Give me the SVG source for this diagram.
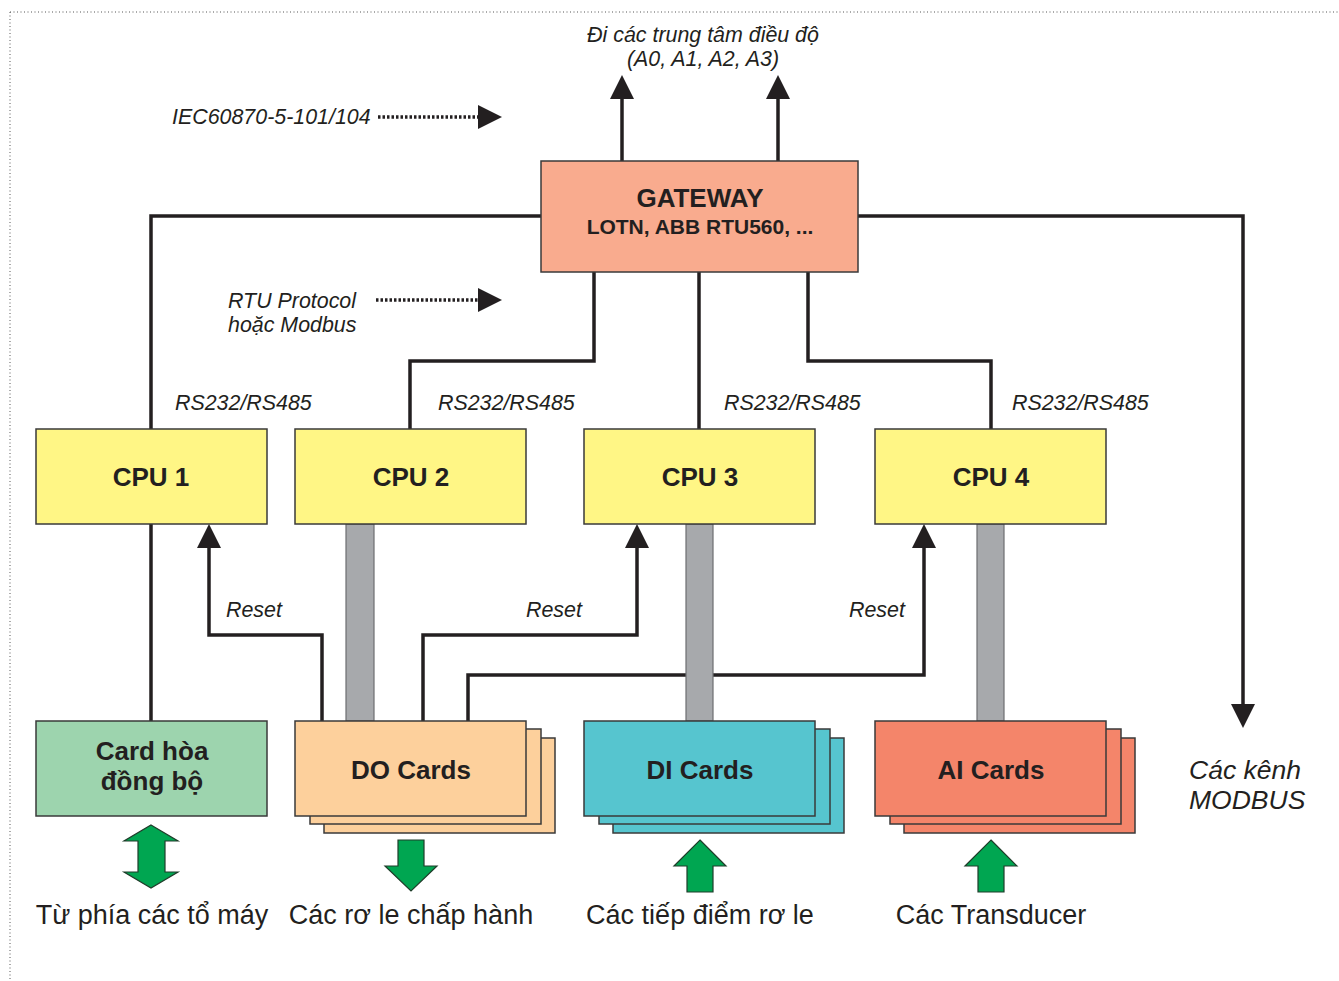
<svg xmlns="http://www.w3.org/2000/svg" width="1339" height="981" viewBox="0 0 1339 981">
<style>
text{font-family:"Liberation Sans",Arial,sans-serif;fill:#231f20}
.it{font-style:italic;font-size:21.4px}
.itl{font-style:italic;font-size:26.5px}
.bt{font-weight:bold;font-size:26px}
.lb{font-size:27px}
.ln{fill:none;stroke:#231f20;stroke-width:3.5;stroke-linejoin:miter}
.dot{fill:none;stroke:#231f20;stroke-width:3.5;stroke-dasharray:2.5 2}
.bar{fill:#a7a9ac;stroke:#6d6e71;stroke-width:1.2}
.box{stroke:#3a3a3a;stroke-width:1.5}
.grn{fill:#00a651;stroke:#1f3d2a;stroke-width:1.2}
</style>
<defs>
<marker id="ah" viewBox="0 0 24 24" refX="1" refY="12" markerWidth="24" markerHeight="24" markerUnits="userSpaceOnUse" orient="auto">
<path d="M0,0 L24,12 L0,24 z" fill="#231f20"/>
</marker>
</defs>
<rect width="1339" height="981" fill="#fff"/>
<path d="M10,12 H1339 M10,12 V981" fill="none" stroke="#555" stroke-width="1" stroke-dasharray="1 2.5"/>

<g id="connectors">
<path class="ln" d="M622,161 V98" marker-end="url(#ah)"/>
<path class="ln" d="M778,161 V98" marker-end="url(#ah)"/>
<path class="dot" d="M378,117 H479" marker-end="url(#ah)"/>
<path class="dot" d="M376,300 H479" marker-end="url(#ah)"/>
<path class="ln" d="M541,216 H151 V429"/>
<path class="ln" d="M858,216 H1243 V705" marker-end="url(#ah)"/>
<path class="ln" d="M594,272 V361 H410 V429"/>
<path class="ln" d="M699,272 V429"/>
<path class="ln" d="M808,272 V361 H991 V429"/>
<path class="ln" d="M151,524 V721"/>
<path class="ln" d="M322,721 V635 H209 V547" marker-end="url(#ah)"/>
<path class="ln" d="M423,721 V635 H637 V547" marker-end="url(#ah)"/>
<path class="ln" d="M468,721 V675 H924 V547" marker-end="url(#ah)"/>
<rect class="bar" x="346" y="524" width="28" height="197"/>
<rect class="bar" x="686" y="524" width="27" height="197"/>
<rect class="bar" x="977" y="524" width="27" height="197"/>
</g>

<g id="gateway">
<rect class="box" x="541" y="161" width="317" height="111" fill="#f9ab8e"/>
<text class="bt" x="700" y="207" text-anchor="middle">GATEWAY</text>
<text x="700" y="234" text-anchor="middle" font-weight="bold" font-size="21">LOTN, ABB RTU560, ...</text>
</g>

<g id="cpu1"><rect class="box" x="36" y="429" width="231" height="95" fill="#fff685"/><text class="bt" x="151" y="486" text-anchor="middle">CPU 1</text></g>
<g id="cpu2"><rect class="box" x="295" y="429" width="231" height="95" fill="#fff685"/><text class="bt" x="411" y="486" text-anchor="middle">CPU 2</text></g>
<g id="cpu3"><rect class="box" x="584" y="429" width="231" height="95" fill="#fff685"/><text class="bt" x="700" y="486" text-anchor="middle">CPU 3</text></g>
<g id="cpu4"><rect class="box" x="875" y="429" width="231" height="95" fill="#fff685"/><text class="bt" x="991" y="486" text-anchor="middle">CPU 4</text></g>

<g id="card-hoa-dong-bo">
<rect class="box" x="36" y="721" width="231" height="95" fill="#9dd4ae"/>
<text class="bt" x="152" y="760" text-anchor="middle">Card hòa</text>
<text class="bt" x="152" y="790" text-anchor="middle">đồng bộ</text>
</g>

<g id="do-cards">
<rect class="box" x="324" y="738" width="231" height="95" fill="#fdd09c"/>
<rect class="box" x="310" y="729" width="231" height="95" fill="#fdd09c"/>
<rect class="box" x="295" y="721" width="231" height="95" fill="#fdd09c"/>
<text class="bt" x="411" y="779" text-anchor="middle">DO Cards</text>
</g>

<g id="di-cards">
<rect class="box" x="613" y="738" width="231" height="95" fill="#56c5cf"/>
<rect class="box" x="599" y="729" width="231" height="95" fill="#56c5cf"/>
<rect class="box" x="584" y="721" width="231" height="95" fill="#56c5cf"/>
<text class="bt" x="700" y="779" text-anchor="middle">DI Cards</text>
</g>

<g id="ai-cards">
<rect class="box" x="904" y="738" width="231" height="95" fill="#f4856a"/>
<rect class="box" x="890" y="729" width="231" height="95" fill="#f4856a"/>
<rect class="box" x="875" y="721" width="231" height="95" fill="#f4856a"/>
<text class="bt" x="991" y="779" text-anchor="middle">AI Cards</text>
</g>

<g id="io-arrows">
<polygon class="grn" points="151,825 178,841 165,841 165,872 178,872 151,888 124,872 138,872 138,841 124,841"/>
<polygon class="grn" points="398,840 424,840 424,866 437,866 411,891 385,866 398,866"/>
<polygon class="grn" points="700,840 726,866 713,866 713,892 687,892 687,866 674,866"/>
<polygon class="grn" points="991,840 1017,866 1004,866 1004,892 978,892 978,866 965,866"/>
</g>

<g id="labels">
<text class="it" x="703" y="42" text-anchor="middle">Đi các trung tâm điều độ</text>
<text class="it" x="703" y="66" text-anchor="middle">(A0, A1, A2, A3)</text>
<text class="it" x="172" y="124">IEC60870-5-101/104</text>
<text class="it" x="228" y="308">RTU Protocol</text>
<text class="it" x="228" y="332">hoặc Modbus</text>
<text class="it" x="175" y="410">RS232/RS485</text>
<text class="it" x="438" y="410">RS232/RS485</text>
<text class="it" x="724" y="410">RS232/RS485</text>
<text class="it" x="1012" y="410">RS232/RS485</text>
<text class="it" x="226" y="617">Reset</text>
<text class="it" x="526" y="617">Reset</text>
<text class="it" x="849" y="617">Reset</text>
<text class="itl" x="1189" y="779">Các kênh</text>
<text class="itl" x="1189" y="809">MODBUS</text>
<text class="lb" x="152" y="924" text-anchor="middle">Từ phía các tổ máy</text>
<text class="lb" x="411" y="924" text-anchor="middle">Các rơ le chấp hành</text>
<text class="lb" x="700" y="924" text-anchor="middle">Các tiếp điểm rơ le</text>
<text class="lb" x="991" y="924" text-anchor="middle">Các Transducer</text>
</g>
</svg>
